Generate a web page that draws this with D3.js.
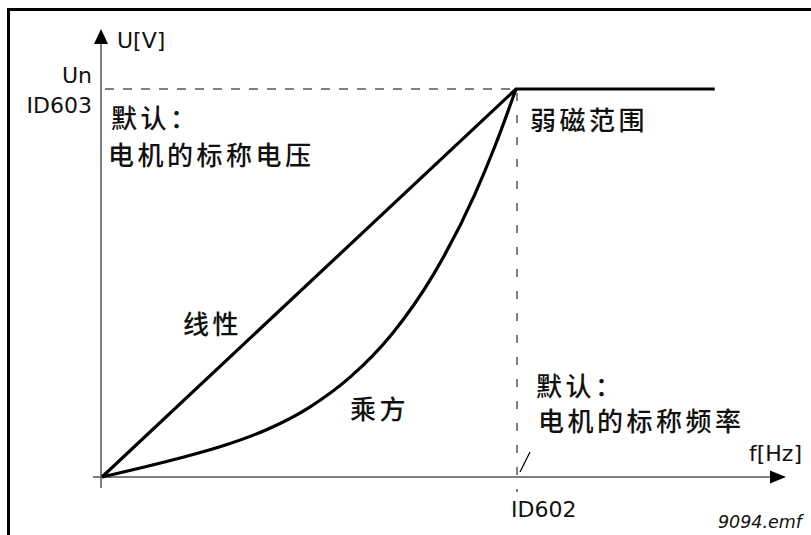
<!DOCTYPE html>
<html><head><meta charset="utf-8">
<script src="https://cdn.jsdelivr.net/npm/d3@7"></script>
<style>
html,body{margin:0;padding:0;background:#fff;}
svg{display:block;}
.lat{font-family:"DejaVu Sans",Verdana,sans-serif;font-size:22px;fill:#111;}
.cjk{font-family:"Noto Sans CJK SC",sans-serif;font-size:26px;font-weight:500;letter-spacing:3.5px;fill:#111;}
</style></head>
<body>
<script>
// ---- data (f and U in % of nominal) ----
const linearF = [0, 100, 148];
const linearU = [0, 100, 100];
const squareF = [0, 10, 20, 30, 40, 50, 60, 70, 80, 90, 95, 100];
const squareU = [0, 2.5, 5.2, 8.3, 12.3, 17.9, 25.8, 36.8, 52.1, 72.7, 85.5, 100];
const nominalF = 100, nominalU = 100;
const yLabels = ["Un", "ID603"];
const xLabel = "ID602";
const noteTop = ["默认：", "电机的标称电压"];
const noteBottom = ["默认：", "电机的标称频率"];
const fieldWeak = "弱磁范围";
const linearName = "线性", squareName = "乘方";

const W = 811, H = 535;
const svg = d3.select("body").append("svg").attr("width", W).attr("height", H);
const x = d3.scaleLinear().domain([0, 100]).range([102, 516]);
const y = d3.scaleLinear().domain([0, 100]).range([477, 89]);

// border
svg.append("rect").attr("x", 8.5).attr("y", 9.5).attr("width", 900).attr("height", 700)
  .attr("fill", "none").attr("stroke", "#000").attr("stroke-width", 3);

// axes
const axisCol = "#555";
svg.append("line").attr("x1", x(0) - 1).attr("x2", x(0) - 1).attr("y1", y(0) + 11).attr("y2", 44)
  .attr("stroke", axisCol).attr("stroke-width", 1.5);
svg.append("path").attr("d", `M${x(0)-1},29 L${x(0)-8},44 L${x(0)+6},44 Z`).attr("fill", "#000");
svg.append("line").attr("x1", x(0) - 9).attr("x2", 770).attr("y1", y(0)).attr("y2", y(0))
  .attr("stroke", axisCol).attr("stroke-width", 1.5);
svg.append("path").attr("d", `M786,${y(0)} L770,${y(0)-6.5} L770,${y(0)+6.5} Z`).attr("fill", "#000");

// dashed guides
svg.append("line").attr("x1", x(0) + 3).attr("x2", x(nominalF)).attr("y1", y(nominalU)).attr("y2", y(nominalU))
  .attr("stroke", "#000").attr("stroke-width", 1).attr("stroke-dasharray", "9,9");
svg.append("line").attr("x1", x(nominalF) + 1).attr("x2", x(nominalF) + 1).attr("y1", y(nominalU) + 4).attr("y2", y(0) + 15)
  .attr("stroke", "#000").attr("stroke-width", 1).attr("stroke-dasharray", "8,14");
// slash mark
svg.append("line").attr("x1", x(nominalF) + 4).attr("y1", y(0) - 5).attr("x2", x(nominalF) + 14).attr("y2", y(0) - 25)
  .attr("stroke", "#000").attr("stroke-width", 1.2);

// curves
const line = d3.line().x(d => x(d[0])).y(d => y(d[1]));
svg.append("path").datum(linearF.map((f, i) => [f, linearU[i]]))
  .attr("d", line).attr("fill", "none").attr("stroke", "#000").attr("stroke-width", 3.2)
  .attr("stroke-linejoin", "miter");
svg.append("path").datum(squareF.map((f, i) => [f, squareU[i]]))
  .attr("d", line.curve(d3.curveMonotoneX)).attr("fill", "none").attr("stroke", "#000").attr("stroke-width", 3.2);

// latin labels
svg.append("text").attr("class", "lat").attr("x", 117).attr("y", 48).text("U[V]");
svg.append("text").attr("class", "lat").attr("x", 92).attr("y", 83).attr("text-anchor", "end").text(yLabels[0]);
svg.append("text").attr("class", "lat").attr("x", 92).attr("y", 113).attr("text-anchor", "end").text(yLabels[1]);
svg.append("text").attr("class", "lat").attr("x", 749).attr("y", 461).text("f[Hz]");
svg.append("text").attr("class", "lat").attr("x", 511).attr("y", 517).text(xLabel);
svg.append("text").attr("class", "lat").attr("x", 802).attr("y", 528).attr("text-anchor", "end")
  .style("font-size", "17.5px").style("font-style", "italic").text("9094.emf");

// cjk labels
const cjk = (t, px, py) => svg.append("text").attr("class", "cjk").attr("x", px).attr("y", py).text(t);
cjk(noteTop[0], 111, 128);
cjk(noteTop[1], 108, 165);
cjk(fieldWeak, 530, 130);
cjk(linearName, 183, 334);
cjk(squareName, 350, 419);
cjk(noteBottom[0], 536, 396);
cjk(noteBottom[1], 538, 431);
</script>
</body></html>
